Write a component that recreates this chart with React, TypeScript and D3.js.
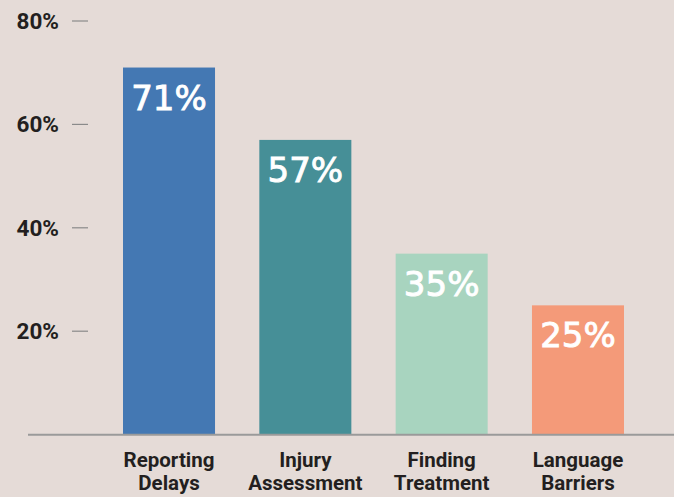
import React from "react";
import * as d3 from "d3";

const categories = ["Reporting Delays", "Injury Assessment", "Finding Treatment", "Language Barriers"];
const values = [71, 57, 35, 25];
const colors = ["#4478B3", "#468F97", "#A8D4BF", "#F49A79"];
const yTicks = [20, 40, 60, 80];

export default function App() {
  const W = 674, H = 497;
  const y = d3.scaleLinear().domain([0, 80]).range([434.6, 21]);
  const x = d3.scaleBand().domain(categories).range([123, 624]).paddingInner(0.325).paddingOuter(0);
  return (
    <svg width={W} height={H} style={{ position: "fixed", left: 0, top: 0, background: "#E5DBD7" }}>
      <rect x={0} y={0} width={W} height={H} fill="#E5DBD7" />
      {yTicks.map((t) => (
        <g key={t}>
          <line x1={72} x2={88} y1={y(t)} y2={y(t)} stroke="#8a8a8a" strokeWidth={1.2} />
          <text x={59} y={y(t) + 7.8} textAnchor="end" fontFamily="Roboto, sans-serif" fontWeight={700} fontSize={22.5} fill="#231F20">{t}%</text>
        </g>
      ))}
      {categories.map((c, i) => {
        const v = values[i];
        const bx = x(c) as number;
        const bw = x.bandwidth();
        const cx = bx + bw / 2;
        const [l1, l2] = c.split(" ");
        return (
          <g key={c}>
            <rect x={bx} y={y(v)} width={bw} height={y(0) - y(v)} fill={colors[i]} />
            <text x={cx} y={y(v) + 42} textAnchor="middle" fontFamily="DejaVu Sans, sans-serif" fontWeight={400} fontSize={34} fill="#ffffff" stroke="#ffffff" strokeWidth={0.9}>{v}%</text>
            <text x={cx} y={467} textAnchor="middle" fontFamily="'Liberation Sans Narrow', Roboto, sans-serif" fontWeight={700} fontSize={20.5} fill="#231F20">{l1}</text>
            <text x={cx} y={490} textAnchor="middle" fontFamily="'Liberation Sans Narrow', Roboto, sans-serif" fontWeight={700} fontSize={20.5} fill="#231F20">{l2}</text>
          </g>
        );
      })}
      <line x1={28} x2={W} y1={434.8} y2={434.8} stroke="#9a9a9a" strokeWidth={2} />
    </svg>
  );
}
